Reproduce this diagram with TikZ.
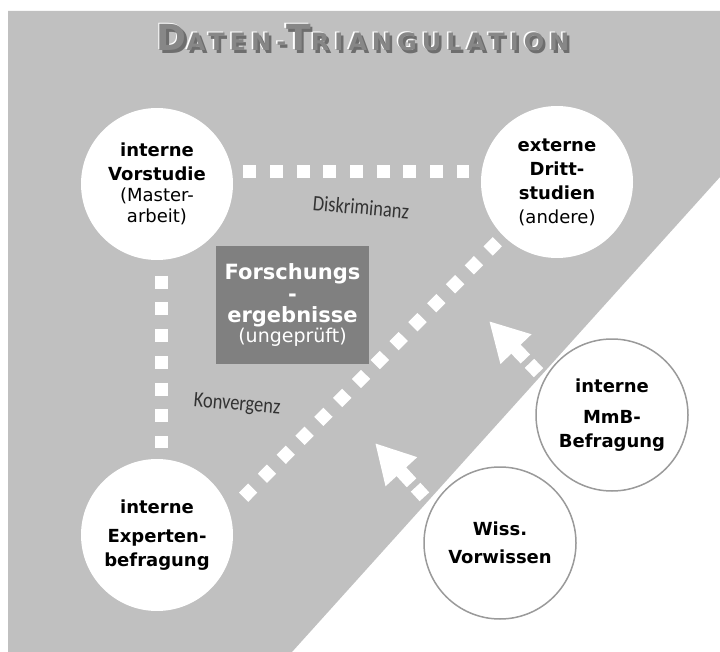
\documentclass[tikz,border=0pt]{standalone}
\usepackage{fontspec}
\setmainfont{DejaVu Sans}
\newfontfamily\wordartfont{Carlito}
\newfontfamily\titlefont[LetterSpace=21]{DejaVu Sans}
\usetikzlibrary{positioning, arrows.meta}

\definecolor{bggrey}{HTML}{C0C0C0}
\definecolor{boxgrey}{HTML}{808080}
\definecolor{ringgrey}{HTML}{9A9A9A}
\definecolor{labelgrey}{HTML}{333333}
\definecolor{titlegrey}{HTML}{878787}
\definecolor{titleshade}{HTML}{6E6E6E}

\newcommand{\titletext}{\titlefont\bfseries{\fontsize{36}{36}\selectfont D}{\fontsize{24}{24}\selectfont ATEN-}{\fontsize{36}{36}\selectfont T}{\fontsize{24}{24}\selectfont RIANGULATION}}
% white edge up left, dark shadow down right, grey face on top
\newcommand{\embossed}{\makebox[0pt][l]{\hspace{-1.5pt}\raisebox{1.5pt}{\color{white}\titletext}}\makebox[0pt][l]{\hspace{2.5pt}\raisebox{-2.5pt}{\color{titleshade}\titletext}}{\color{titlegrey}\titletext}}
\newcommand{\narrow}[1]{\scalebox{0.84}[1]{#1}}

\tikzset{
  source/.style={circle, fill=white, minimum size=152pt, inner sep=0pt, align=center, font=\bfseries\fontsize{18}{24}\selectfont},
  extsource/.style={source, draw=ringgrey, line width=1.5pt},
  resultbox/.style={rectangle, fill=boxgrey, text=white, minimum width=153pt, minimum height=118pt, inner sep=0pt, align=center, font=\bfseries\fontsize{21}{21.5}\selectfont},
  dotline/.style={white, line width=13pt, dash pattern=on 13pt off 13.7pt},
  bigarrow/.style={white, line width=13pt, dash pattern=on 13pt off 6pt on 80pt off 0pt, -{Triangle[width=40pt,length=39pt]}},
  wordart/.style={text=labelgrey, inner sep=0pt, font=\wordartfont\fontsize{22}{24}\selectfont}
}

\begin{document}
\begin{tikzpicture}[x=1pt, y=-1pt]
    \useasboundingbox (0,0) rectangle (720,652);
    % grey field behind the triangle
    \fill[bggrey] (8,11) -- (720,11) -- (720,177) -- (292,652) -- (8,652) -- cycle;

    % title
    \node[anchor=base] (title) at (363,51) {\embossed};

    % corners of the triangle
    \node[source] (vor) at (157,184) {interne\\Vorstudie\\[-3pt]{\mdseries (Master-}\\[-3pt]{\mdseries arbeit)}};
    \node[source] (dritt) at (557,182) {externe\\Dritt-\\studien\\{\mdseries (andere)}};
    \node[source] (exp) at (157,535) {interne\\[5pt]Experten-\\befragung};

    % sides
    \draw[dotline, shorten <=10pt, shorten >=12pt] ([yshift=12pt]vor.east) -- ([yshift=10pt]dritt.west);
    \draw[dotline, shorten <=15.5pt, shorten >=10.5pt] ([xshift=4pt]vor.south) -- ([xshift=4pt]exp.north);
    \draw[dotline, shorten <=20pt, shorten >=8pt] (exp.18) -- (dritt.225);

    \node[wordart, rotate=-5] (diskr) at (361,207) {\narrow{Diskriminanz}};
    \node[wordart, rotate=-5] (konv) at (237,405) {\narrow{Konvergenz}};

    % result in the middle
    \node[resultbox] (res) at (292.5,305) {Forschungs\\-\\ergebnisse\\[-2pt]{\mdseries\fontsize{19}{19}\selectfont (ungeprüft)}};

    % outside sources
    \coordinate (mmbtail) at (538.5,372.7);
    \coordinate (mmbtip) at (489,321);
    \coordinate (wisstail) at (424.4,496.8);
    \coordinate (wisstip) at (375,443);
    \draw[bigarrow] (mmbtail) -- (mmbtip);
    \draw[bigarrow] (wisstail) -- (wisstip);

    \node[extsource] (mmb) at (612,415) {interne\\[7pt]MmB-\\Befragung};
    \node[extsource] (wiss) at (500,543) {Wiss.\\[4pt]Vorwissen};
\end{tikzpicture}
\end{document}
